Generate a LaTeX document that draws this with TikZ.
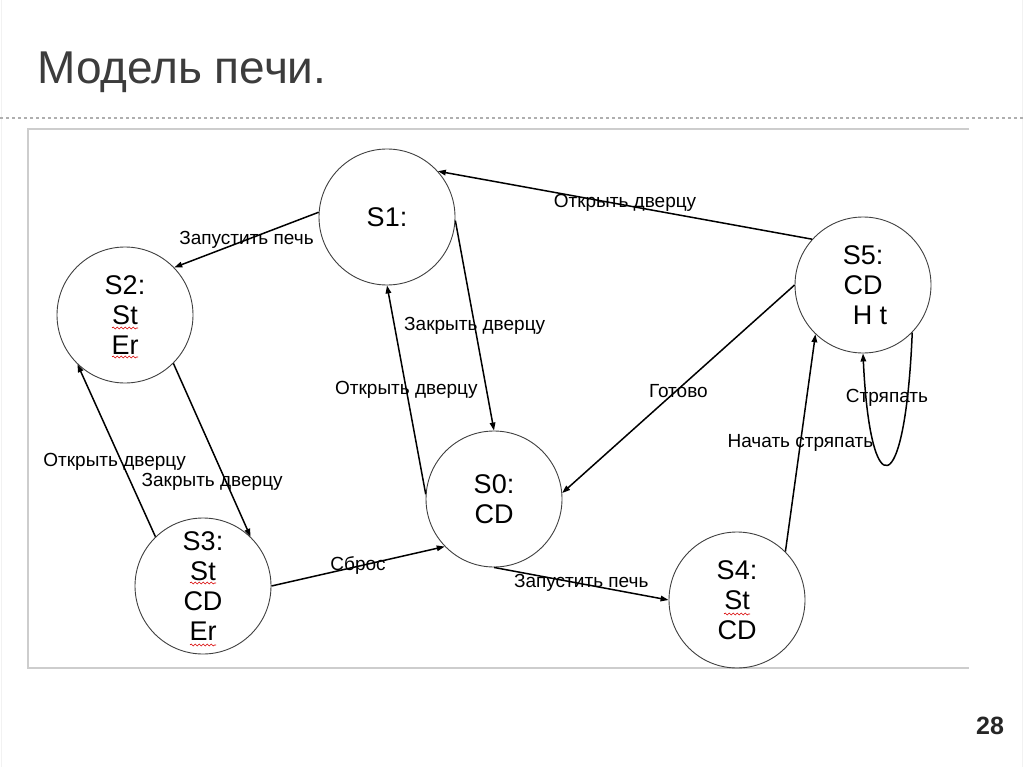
\documentclass[tikz,border=0pt]{standalone}
\usepackage{fontspec}
\setmainfont{Liberation Sans}
\usetikzlibrary{arrows.meta,calc,decorations.pathmorphing}
\definecolor{titlegray}{RGB}{60,60,60}
\definecolor{framegray}{RGB}{205,205,205}
\definecolor{dotgray}{RGB}{175,175,175}
\begin{document}
\begin{tikzpicture}[x=1pt,y=-1pt,
  st/.style={circle,draw=black!75,line width=0.9pt,minimum size=136pt,inner sep=0pt,
    align=center,font=\fontsize{27}{30}\selectfont},
  tr/.style={line width=1.5pt,-{Triangle[length=8pt,width=5.5pt]}},
  lab/.style={font=\fontsize{19}{21}\selectfont,inner sep=0pt},
  squig/.style={red!85!black,line width=0.6pt,decorate,
    decoration={snake,segment length=4pt,amplitude=1pt}}]
\useasboundingbox (0,0) rectangle (1024,767);
\fill[white] (0,0) rectangle (1024,767);
\draw[black!5,line width=1pt] (1.5,0) -- (1.5,767) (1022,0) -- (1022,767);
% title
\node[anchor=base west,text=titlegray,font=\fontsize{46}{50}\selectfont,inner sep=0pt] (title) at (37,84) {Модель печи.};
\draw[dotgray,line width=1.3pt,dash pattern=on 3pt off 3pt] (0,118) -- (1024,118);
% frame
\draw[framegray,line width=1.5pt] (969,129) -- (28,129) -- (28,668) -- (969,668);
% page number
\node[font=\bfseries\fontsize{25}{28}\selectfont,text=black!85] (pnum) at (990,726) {28};
% states
\node[st] (S1) at (387,217) {S1:};
\node[st] (S2) at (125,315) {S2:\\St\\Er};
\node[st] (S3) at (203,586) {S3:\\St\\CD\\Er};
\node[st] (S0) at (494,499) {S0:\\CD};
\node[st] (S4) at (737,600) {S4:\\St\\CD};
\node[st] (S5) at (863,285) {S5:\\CD\\\hspace*{14pt}H t};
% spell-check squiggles
\draw[squig] ($(S2)+(-13,13)$) -- ++(26,0);
\draw[squig] ($(S2)+(-13,42)$) -- ++(26,0);
\draw[squig] ($(S3)+(-13,-3)$) -- ++(26,0);
\draw[squig] ($(S3)+(-13,59)$) -- ++(26,0);
\draw[squig] ($(S4)+(-13,14)$) -- ++(26,0);
% transitions
\draw[tr] (S5.138) -- node[lab,pos=0.5,yshift=2pt] {Открыть дверцу} (S1.42);
\draw[tr] (S1.176) -- node[lab,pos=0.5] {Запустить печь} (S2.44);
\draw[tr] (S1.-3) -- node[lab,pos=0.5] {Закрыть дверцу} (S0.90);
\draw[tr] (S0.176) -- node[lab,pos=0.5] {Открыть дверцу} (S1.270);
\draw[tr] (S5.180) -- node[lab,pos=0.5,yshift=-2pt] {Готово} (S0.5);
\draw[tr] (S4.45) -- node[lab,pos=0.5] {Начать стряпать} (S5.-134);
\draw[tr] (S5.-44) .. controls (905,505) and (870,505) .. (S5.-90);
\node[lab] (lstr) at (887,398) {Стряпать};
\draw[tr] (S2.-45) -- node[lab,pos=0.684,xshift=-14pt] {Закрыть дверцу} (S3.46);
\draw[tr] (S3.134) -- node[lab,pos=0.434,xshift=-7pt] {Открыть дверцу} (S2.-134);
\draw[tr] (S3.0) -- node[lab,pos=0.5,yshift=1pt] {Сброс} (S0.-136);
\draw[tr] (S0.-90) -- node[lab,pos=0.5,yshift=1pt] {Запустить печь} (S4.180);
\end{tikzpicture}
\end{document}
